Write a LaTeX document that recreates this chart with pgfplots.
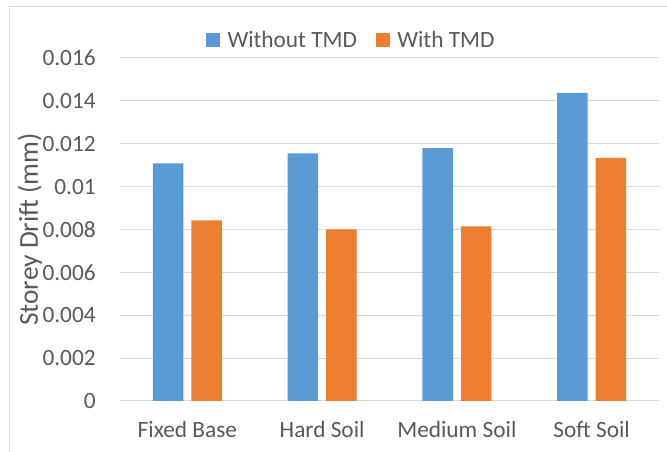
\documentclass[border=0pt]{standalone}
\usepackage{pgfplots}
\pgfplotsset{compat=1.18}
\usepackage{fontspec}
\setmainfont{Carlito}
\definecolor{cblue}{HTML}{5B9BD5}
\definecolor{corange}{HTML}{ED7D31}
\definecolor{ctext}{HTML}{595959}
\definecolor{cgrid}{HTML}{D9D9D9}
\pgfplotsset{sqlegend/.style={legend image code/.code={\fill[##1] (0pt,-5.25pt) rectangle (10.5pt,5.25pt);}}}
\begin{document}
\begin{tikzpicture}
\useasboundingbox (-90pt,-38.25pt) rectangle (410.25pt,300.75pt);
\draw[cgrid, line width=0.75pt] (-82.5pt,-60pt) rectangle (430pt,295.5pt);
\begin{axis}[
  at={(0pt,0pt)}, anchor=south west,
  scale only axis, width=404.25pt, height=257.25pt,
  ybar=6pt, bar width=22.8pt,
  xmin=-0.5, xmax=3.5, ymin=0, ymax=0.016,
  scaled y ticks=false,
  xtick=data, xticklabels={Fixed Base, Hard Soil, Medium Soil, Soft Soil},
  ytick={0,0.002,0.004,0.006,0.008,0.01,0.012,0.014,0.016},
  yticklabels={0,0.002,0.004,0.006,0.008,0.01,0.012,0.014,0.016},
  tick label style={font=\fontsize{17.5}{21}\selectfont, text=ctext},
  yticklabel style={anchor=east, inner sep=0pt, xshift=-18pt},
  xticklabel style={anchor=base, inner sep=0pt, yshift=-27.75pt},
  major tick length=0pt,
  axis line style={draw=none},
  ymajorgrids, major grid style={cgrid, line width=0.75pt},
  ylabel={Storey Drift (mm)},
  ylabel style={at={([xshift=-61.5pt]axis description cs:0,0.5)}, anchor=base, inner sep=0pt, font=\fontsize{20.5}{24}\selectfont, text=ctext},
  legend columns=2,
  legend style={at={([yshift=13.5pt]axis description cs:0.4295,1)}, anchor=center, draw=none, fill=none, inner sep=0pt,
    font=\fontsize{17.5}{21}\selectfont, text=ctext,
    /tikz/every odd column/.append style={column sep=3.75pt},
    /tikz/every even column/.append style={column sep=12pt}},
]
\addplot[fill=cblue, draw=none, sqlegend] coordinates {(0,0.01108) (1,0.01155) (2,0.0118) (3,0.01437)};
\addplot[fill=corange, draw=none, sqlegend] coordinates {(0,0.00843) (1,0.0080) (2,0.00815) (3,0.01134)};
\legend{Without TMD, With TMD}
\end{axis}
\end{tikzpicture}
\end{document}
